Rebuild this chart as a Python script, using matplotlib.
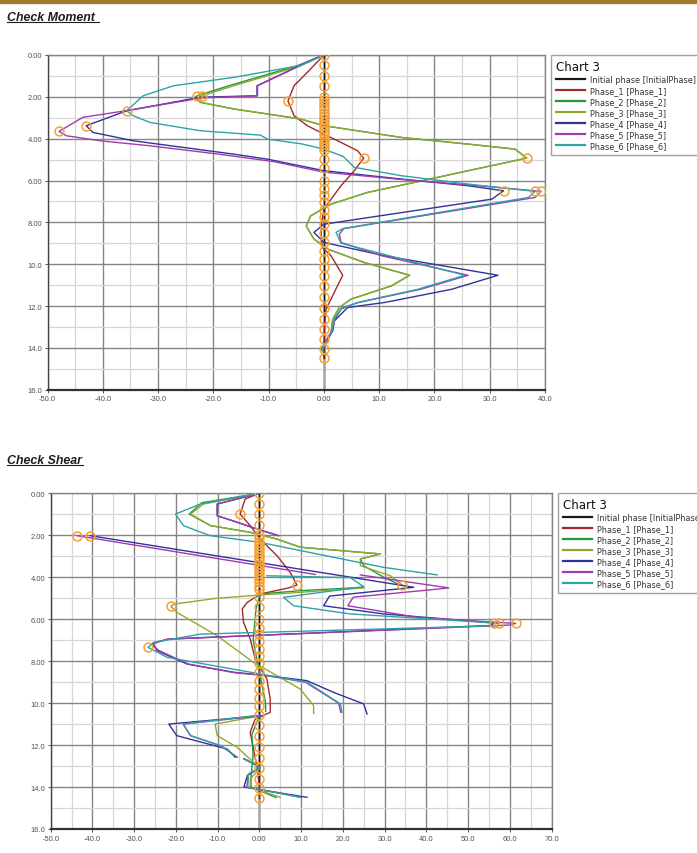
import numpy as np
import matplotlib.pyplot as plt
from matplotlib.lines import Line2D
from matplotlib.patches import Rectangle

plt.rcParams['font.family'] = ['Liberation Sans', 'DejaVu Sans']

nan = np.nan

# depths of the wall nodes (orange circles on x = 0)
NODE_DEPTHS = [0.0, 0.5, 1.0, 1.5, 2.0, 2.15, 2.3, 2.45, 2.6, 2.75, 2.9, 3.05, 3.2,
               3.35, 3.5, 3.65, 3.8, 3.95, 4.1, 4.25, 4.4, 4.55, 4.95, 5.4, 6.0, 6.4,
               6.7, 7.05, 7.4, 7.75, 8.1, 8.5, 8.95, 9.35, 9.75, 10.15, 10.55, 11.05,
               11.55, 12.1, 12.6, 13.1, 13.6, 14.05, 14.5]

PHASES = ["Initial phase [InitialPhase]", "Phase_1 [Phase_1]", "Phase_2 [Phase_2]",
          "Phase_3 [Phase_3]", "Phase_4 [Phase_4]", "Phase_5 [Phase_5]",
          "Phase_6 [Phase_6]"]
COLORS = ["#1a1a1a", "#a12a2a", "#1f9a3a", "#93a830", "#32329c", "#a23aae", "#2da3a5"]
ORANGE = "#f5a033"

# ---------------- Check Moment ----------------
M_INIT_D = [0.0, 14.5]
M_INIT_V = [0.0, 0.0]

M_P1_D = [0, 0.83, 1.47, 2.2, 2.9, 3.38, 3.78, 4.18, 4.58, 4.93, 5.53, 6.25, 6.89, 7.37,
          8.0, 8.5, 9.2, 9.6, 10.53, 11.5, 12.15, 13.0, 14.0, 14.5]
M_P1_V = [0, -3.0, -5.4, -6.5, -5.4, -3.0, 0.0, 3.1, 6.1, 7.2, 5.5, 3.1, 1.3, 0.0,
          -0.4, -0.5, -0.3, 1.3, 3.4, 1.6, 0.4, 0.1, 0.0, 0.0]

M_P2_D = [0, 0.51, 0.99, 1.47, 1.87, 1.98, 2.26, 2.58, 2.82, 3.06, 3.38, 3.94, 4.26, 4.5,
          4.93, 5.53, 6.09, 6.57, 7.13, 7.69, 8.17, 8.8, 9.28, 9.92, 10.53, 11.04, 11.67,
          12.07, 12.63, 13.27, 13.75, 14.05, 14.2]
M_P2_V = [0, -4.8, -11.0, -17.2, -22.0, -23.2, -22.4, -16.3, -10.2, -4.2, 0.0, 14.0, 26.1,
          34.6, 36.7, 26.1, 16.4, 7.9, 1.3, -2.4, -3.2, -1.8, 0.7, 7.3, 15.5, 12.2, 4.9,
          2.8, 1.6, 1.3, 0.4, -0.6, 0.0]

M_P3_D = [0, 0.51, 0.99, 1.47, 1.87, 1.98, 2.26, 2.58, 2.82, 3.06, 3.38, 3.94, 4.26, 4.5,
          4.93, 5.53, 6.09, 6.57, 7.13, 7.69, 8.17, 8.8, 9.28, 9.92, 10.53, 11.04, 11.67,
          12.07, 12.63, 13.27, 13.75, 14.0]
M_P3_V = [0, -4.2, -10.2, -16.3, -21.1, -22.4, -22.4, -16.3, -10.2, -4.2, 0.0, 14.0, 26.1,
          34.6, 36.7, 26.1, 16.4, 7.9, 1.3, -2.4, -3.2, -1.8, 0.7, 7.3, 15.5, 12.2, 4.9,
          2.8, 1.6, 1.3, 0.4, 0.0]

M_P4_D = [0, 0.19, 1.47, 1.95, 2.02, 2.67, 3.38, 3.7, 4.1, 4.42, 4.74, 4.98, 5.53, 5.93,
          6.25, 6.49, 6.89, 7.69, 8.09, 8.48, 8.96, 9.6, 10.53, 11.2, 11.83, 12.07, 12.71,
          13.19, 13.59, 14.0]
M_P4_V = [0, -1.8, -12.1, -12.1, -22.4, -35.7, -43.0, -41.8, -34.5, -25.4, -16.3, -10.2,
          0.0, 14.0, 26.1, 32.5, 30.4, 10.1, 0.0, -1.8, 0.0, 11.0, 31.5, 23.1, 11.0, 4.3,
          1.9, 1.6, 0.7, 0.0]

M_P5_D = [0, 0.19, 1.47, 1.95, 2.05, 2.67, 2.98, 3.65, 3.86, 4.1, 4.34, 4.74, 5.1, 5.6,
          5.95, 6.25, 6.52, 6.81, 8.3, 8.56, 8.96, 9.6, 10.53, 11.2, 11.83, 12.1, 12.7,
          13.2, 13.6, 14.0]
M_P5_V = [0, -1.8, -12.0, -12.0, -22.0, -36.0, -43.6, -47.9, -46.6, -40.5, -31.5, -19.0,
          -9.0, 0.0, 14.0, 28.0, 39.3, 38.2, 3.6, 2.8, 3.1, 10.5, 26.1, 17.5, 6.3, 3.2,
          1.9, 1.4, 0.5, 0.0]

M_P6_D = [0, 0.5, 1.07, 1.47, 1.95, 2.67, 2.9, 3.22, 3.62, 3.83, 4.02, 4.25, 4.5, 4.85,
          5.37, 5.77, 6.17, 6.52, 6.81, 8.3, 8.48, 9.0, 10.53, 11.2, 11.83, 12.15, 12.6,
          13.3, 13.75, 14.0, 14.3]
M_P6_V = [0, -4.2, -16.3, -27.2, -32.7, -35.7, -34.5, -31.5, -22.4, -11.5, -10.2, -4.0,
          0.0, 3.5, 5.5, 14.0, 26.1, 38.2, 37.0, 3.4, 2.2, 3.1, 25.5, 17.0, 6.1, 3.1, 1.9,
          1.3, 0.4, -0.3, 0.0]

M_PEAK_V = [-6.5, 7.2, -23.0, -22.1, 36.7, -43.0, 32.5, -47.9, 39.3, -35.7, 38.2]
M_PEAK_D = [2.2, 4.93, 1.98, 1.98, 4.93, 3.38, 6.49, 3.65, 6.52, 2.67, 6.52]

# ---------------- Check Shear ----------------
S_INIT_D = [0.0, 14.5]
S_INIT_V = [0.0, 0.0]

S_P1_D = [0, 0.27, 0.99, 1.54, 2.18, 2.97, 3.77, 4.37, 4.51, 4.8, 5.2, 5.51, 6.15, 6.94,
          7.9, 8.85, 9.8, 10.44, 10.76, 11.39, 12.19, 12.98, 14.0, 14.5]
S_P1_V = [0, -3.4, -4.6, -2.2, 0.2, 4.2, 7.4, 9.0, 7.0, 0.2, -2.9, -4.1, -3.8, -2.2,
          -1.0, 1.8, 2.6, 2.6, -1.0, -2.2, -1.4, -0.6, 0.0, 0.0]

S_P2_D = [0, 0.45, 0.99, 1.54, 1.86, 2.18, 2.57, 2.89, 3.13, 3.45, 4.0, 4.3, nan, 4.48,
          4.64, 4.8, 5.5, 7.0, 8.5, 10.0, 10.4, nan, 10.6, 11.5, 12.5, 13.5, 14.0, 14.5]
S_P2_V = [0, -13.8, -16.8, -11.7, -2.2, 4.2, 9.8, 29.0, 24.2, 25.0, 29.8, 33.0, nan, 25.0,
          9.8, 0.2, -0.8, -1.5, 0.0, 1.5, 1.5, nan, 0.0, -1.8, -1.5, -2.0, -2.0, 4.0]

S_P3_D = [0, 0.51, 0.99, 1.54, 1.86, 2.18, 2.57, 2.89, 3.13, 3.45, 3.93, 4.37, nan, 4.51,
          4.85, 5.0, 5.28, 5.39, 5.67, 6.79, 8.06, 8.69, 9.33, 10.12, 10.5, nan, 10.6, 11.0,
          11.55, 12.11, 12.82, 13.1, 13.62, 14.0, 14.49]
S_P3_V = [0, -13.4, -16.5, -11.7, -2.2, 4.2, 9.8, 29.0, 24.2, 24.2, 31.4, 34.2, nan, 25.0,
          0.2, -10.1, -20.5, -21.2, -19.8, -10.1, -1.4, 4.2, 9.8, 13.0, 13.0, nan, 0.3,
          -10.6, -10.1, -5.3, -1.4, 0.2, -2.2, -2.2, 5.0]

S_P4_D = [0, 0.51, 1.07, 1.38, 1.7, 2.02, nan, 2.02, 4.48, 4.9, 5.36, 5.75, 6.18, 6.3,
          6.95, 7.15, 7.5, 8.14, 8.53, 8.69, 8.93, 9.49, 10.04, 10.52, nan, 10.6, 11.0,
          11.55, 12.19, 12.58, nan, 12.66, 13.06, 13.46, 14.0, 14.49]
S_P4_V = [0, -10.1, -10.1, -5.3, -0.6, 4.6, nan, -40.5, 37.0, 16.8, 15.4, 29.8, 56.2, 55.5,
          -22.0, -25.5, -24.5, -17.3, -6.1, 1.8, 11.4, 17.8, 25.0, 25.8, nan, 0.5, -21.7,
          -19.8, -7.7, -5.8, nan, -3.7, 0.2, -2.9, -3.7, 11.4]

S_P5_D = [0, 0.51, 1.07, 1.38, 1.7, 2.02, nan, 2.02, 3.87, nan, 3.89, 4.51, 4.62, 4.95,
          5.36, 5.91, 6.15, 6.2, 6.28, 6.95, 7.2, 7.5, 8.14, 8.55, 8.7, 9.0, 10.0, 10.44,
          nan, 10.6, 11.0, 11.55, 12.05, 12.58, nan, 12.66, 13.06, 13.4, 14.0, 14.49]
S_P5_V = [0, -10.1, -10.1, -5.3, -0.6, 4.6, nan, -43.7, 13.4, nan, 24.2, 45.4, 40.0, 22.5,
          21.2, 37.8, 57.0, 61.4, 60.0, -22.0, -26.0, -24.0, -17.0, -6.0, 2.0, 11.0, 19.0,
          19.5, nan, 0.3, -18.3, -16.5, -9.0, -5.3, nan, -3.6, 0.2, -2.7, -3.0, 10.0]

S_P6_D = [0, 0.51, 0.99, 1.54, 2.02, 2.34, 2.89, 3.53, 3.89, nan, 3.93, 4.02, 4.45, 4.96,
          5.36, 5.75, 6.15, 6.2, 6.31, 6.71, 7.02, 7.1, 7.34, 7.82, 8.61, 9.0, 10.04, 10.44,
          nan, 10.57, 11.0, 11.55, 12.03, 12.58, nan, 12.65, 13.06, 13.38, 14.0, 14.49]
S_P6_V = [0, -14.1, -20.1, -18.2, -11.8, 0.2, 13.8, 29.8, 42.6, nan, 1.8, 21.8, 25.0, 5.8,
          8.2, 21.8, 53.8, 57.4, 57.0, -14.1, -22.9, -25.3, -26.7, -22.1, 0.2, 11.4, 19.4,
          19.8, nan, 0.2, -18.2, -16.5, -9.3, -5.3, nan, -3.5, 0.2, -2.6, -2.8, 9.8]

S_PEAK_V = [-4.6, 9.0, 34.2, -21.2, -40.5, -43.7, 56.2, 57.4, 61.4, -26.7]
S_PEAK_D = [0.99, 4.37, 4.37, 5.39, 2.02, 2.02, 6.2, 6.2, 6.2, 7.34]

Y_TICKS = [0, 2, 4, 6, 8, 10, 12, 14, 16]
Y_LABELS = ["0.00", "2.00", "4.00", "6.00", "8.00", "10.0", "12.0", "14.0", "16.0"]
M_X_TICKS = [-50, -40, -30, -20, -10, 0, 10, 20, 30, 40]
M_X_LABELS = ["-50.0", "-40.0", "-30.0", "-20.0", "-10.0", "0.00", "10.0", "20.0", "30.0", "40.0"]
S_X_TICKS = [-50, -40, -30, -20, -10, 0, 10, 20, 30, 40, 50, 60, 70]
S_X_LABELS = ["-50.0", "-40.0", "-30.0", "-20.0", "-10.0", "0.00", "10.0", "20.0", "30.0",
              "40.0", "50.0", "60.0", "70.0"]

W, H = 697, 854


def draw_panel(ax, series, peak_v, peak_d, xticks, xlabels):
    ax.set_xlim(xticks[0], xticks[-1])
    ax.set_ylim(16, 0)
    ax.set_xticks(xticks)
    ax.set_xticklabels(xlabels)
    ax.set_xticks(np.arange(xticks[0] + 5, xticks[-1], 10), minor=True)
    ax.set_yticks(Y_TICKS)
    ax.set_yticklabels(Y_LABELS)
    ax.set_yticks(np.arange(1, 16, 2), minor=True)
    ax.grid(which="major", color="#858585", lw=1.0, zorder=0)
    ax.grid(which="minor", color="#d6d6d6", lw=0.9, zorder=0)
    ax.set_axisbelow(True)
    ax.tick_params(which="minor", length=0)
    ax.tick_params(which="major", direction="out", length=2.5, width=0.7, color="#555",
                   labelsize=5.4, labelcolor="#505050", pad=1.5)
    for side in ("top", "right"):
        ax.spines[side].set_color("#858585")
        ax.spines[side].set_linewidth(1.0)
    ax.spines["left"].set_color("#444")
    ax.spines["left"].set_linewidth(1.0)
    ax.spines["bottom"].set_color("#333")
    ax.spines["bottom"].set_linewidth(1.6)

    ax.axvline(0, color="#a8a8a8", lw=1.8, zorder=1)
    for (vals, depths), col in zip(series, COLORS):
        ax.plot(vals, depths, color=col, lw=1.0, zorder=2)
    ax.plot(np.zeros(len(NODE_DEPTHS)), NODE_DEPTHS, ls="none", marker="o", ms=6.4,
            mfc="none", mec=ORANGE, mew=1.1, zorder=4)
    ax.plot(peak_v, peak_d, ls="none", marker="o", ms=6.4, mfc="none", mec=ORANGE,
            mew=1.1, zorder=4)


def add_legend(fig, ax, left_px, top_px):
    handles = [Line2D([], [], color=c, lw=1.6) for c in COLORS]
    leg = ax.legend(handles, PHASES, title="Chart 3", loc="upper left",
                    bbox_to_anchor=(left_px / W, 1 - top_px / H),
                    bbox_transform=fig.transFigure, borderaxespad=0,
                    prop={"family": "DejaVu Sans", "size": 5.9},
                    title_fontproperties={"family": "DejaVu Sans", "size": 8.5},
                    alignment="left", frameon=True, fancybox=False,
                    handlelength=3.6, handletextpad=0.5, labelspacing=0.24,
                    borderpad=0.6)
    leg.get_frame().set_edgecolor("#8c8c8c")
    leg.get_frame().set_linewidth(1.0)
    for t in leg.get_texts():
        t.set_color("#333")
    leg.get_title().set_color("#111")


def add_heading(fig, text, base_px, ul_px, ul_right_px):
    fig.text(7 / W, 1 - base_px / H, text, fontsize=8.9, fontweight="bold",
             fontstyle="italic", color="#1e1e1e", va="baseline", ha="left")
    fig.lines.append(Line2D([7 / W, ul_right_px / W], [1 - ul_px / H] * 2,
                            transform=fig.transFigure, color="#1e1e1e", lw=0.8))


def main():
    fig = plt.figure(figsize=(W / 100, H / 100), dpi=100)
    fig.patches.append(Rectangle((0, 1 - 4 / H), 1, 4 / H, transform=fig.transFigure,
                                 color="#a07b2e", zorder=0))

    ax1 = fig.add_axes([47.5 / W, 1 - 390.7 / H, 497.5 / W, 334.7 / H])
    moment = [(M_INIT_V, M_INIT_D), (M_P1_V, M_P1_D), (M_P2_V, M_P2_D), (M_P3_V, M_P3_D),
              (M_P4_V, M_P4_D), (M_P5_V, M_P5_D), (M_P6_V, M_P6_D)]
    draw_panel(ax1, moment, M_PEAK_V, M_PEAK_D, M_X_TICKS, M_X_LABELS)
    add_legend(fig, ax1, 551, 56)
    add_heading(fig, "Check Moment", 20.7, 22.9, 99)

    ax2 = fig.add_axes([50.7 / W, 1 - 830 / H, 500.8 / W, 335.7 / H])
    shear = [(S_INIT_V, S_INIT_D), (S_P1_V, S_P1_D), (S_P2_V, S_P2_D), (S_P3_V, S_P3_D),
             (S_P4_V, S_P4_D), (S_P5_V, S_P5_D), (S_P6_V, S_P6_D)]
    draw_panel(ax2, shear, S_PEAK_V, S_PEAK_D, S_X_TICKS, S_X_LABELS)
    add_legend(fig, ax2, 558, 494)
    add_heading(fig, "Check Shear", 464, 466.3, 83)

    fig.savefig("out.png", dpi=100)


if __name__ == "__main__":
    main()
